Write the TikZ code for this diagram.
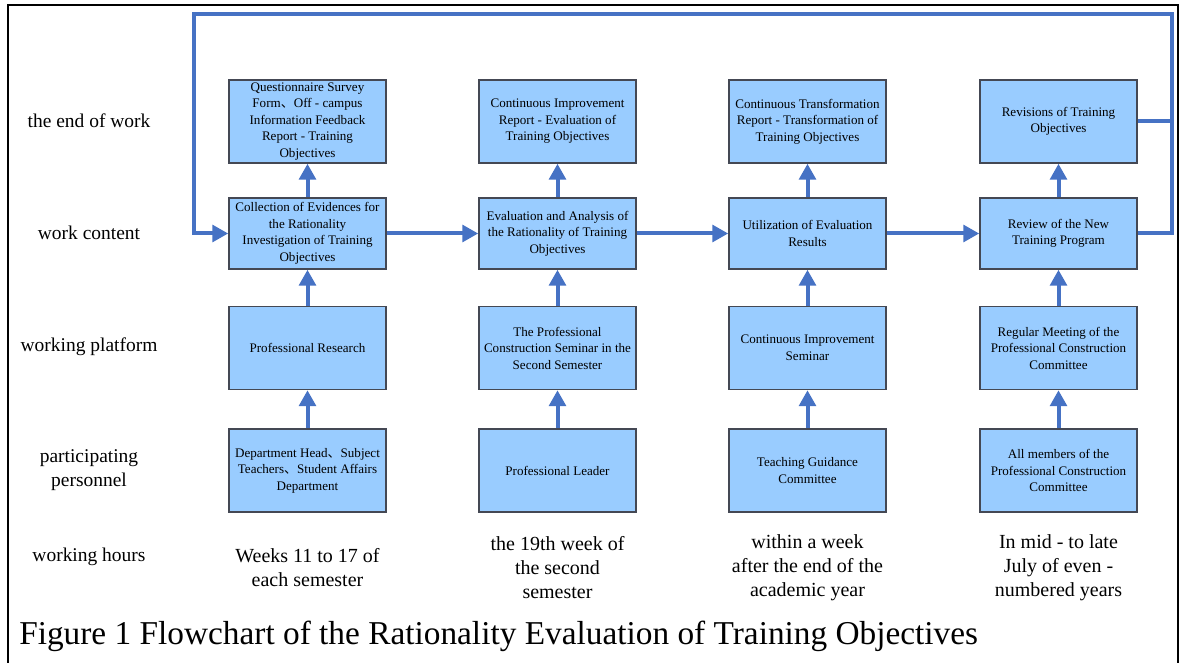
\documentclass[tikz,border=0pt]{standalone}
\usepackage{fontspec}
\setmainfont{Liberation Serif}
\newfontfamily\cjkfont{Noto Sans CJK SC}
\usetikzlibrary{arrows.meta}
\newcommand{\dunhao}{{\cjkfont 、}}
\definecolor{boxfill}{RGB}{153,204,255}
\definecolor{boxline}{RGB}{68,72,84}
\definecolor{flowblue}{RGB}{70,114,196}

\begin{document}
\begin{tikzpicture}[x=0.75pt,y=0.75pt,yscale=-1,xscale=1,
  stepbox/.style={draw=boxline,fill=boxfill,line width=1.1pt,inner sep=0pt,
    minimum width=117.75pt,minimum height=62.25pt,align=center,
    font=\fontsize{9.8}{12.4}\selectfont},
  midbox/.style={stepbox,minimum height=53.25pt},
  rowlabel/.style={align=center,font=\fontsize{14.6}{17.5}\selectfont},
  hourtext/.style={align=center,font=\fontsize{15}{18}\selectfont},
  flow/.style={draw=flowblue,line width=3pt,line join=miter,
    -{Triangle[length=12pt,width=12.5pt]}},
  backline/.style={draw=flowblue,line width=3pt,line join=miter}]
\useasboundingbox (0,0) rectangle (1183,663);

%frame
\draw [line width=1.6pt] (8,663) -- (8,5) -- (1178,5) -- (1178,663);

% row labels
\node [rowlabel] (lend) at (89,121) {the end of work};
\node [rowlabel] (lcontent) at (89,233) {work content};
\node [rowlabel] (lplatform) at (89,347) {working platform};
\node [rowlabel] (lpersonnel) at (89,470) {participating\\personnel};
\node [rowlabel] (lhours) at (89,557) {working hours};

% column 1
\node [stepbox] (survey) at (307.5,121.5) {Questionnaire Survey\\Form\dunhao Off - campus\\Information Feedback\\Report - Training\\Objectives};
\node [midbox] (collect) at (307.5,233.5) {Collection of Evidences for\\the Rationality\\Investigation of Training\\Objectives};
\node [stepbox] (research) at (307.5,348) {Professional Research};
\node [stepbox] (depthead) at (307.5,470.5) {Department Head\dunhao Subject\\Teachers\dunhao Student Affairs\\Department};

% column 2
\node [stepbox] (impreport) at (557.5,121.5) {Continuous Improvement\\Report - Evaluation of\\Training Objectives};
\node [midbox] (analysis) at (557.5,233.5) {Evaluation and Analysis of\\the Rationality of Training\\Objectives};
\node [stepbox] (seminar) at (557.5,348) {The Professional\\Construction Seminar in the\\Second Semester};
\node [stepbox] (leader) at (557.5,470.5) {Professional Leader};

% column 3
\node [stepbox] (transreport) at (807.5,121.5) {Continuous Transformation\\Report - Transformation of\\Training Objectives};
\node [midbox] (utilize) at (807.5,233.5) {Utilization of Evaluation\\Results};
\node [stepbox] (impseminar) at (807.5,348) {Continuous Improvement\\Seminar};
\node [stepbox] (guidance) at (807.5,470.5) {Teaching Guidance\\Committee};

% column 4
\node [stepbox] (revision) at (1058.5,121.5) {Revisions of Training\\Objectives};
\node [midbox] (review) at (1058.5,233.5) {Review of the New\\Training Program};
\node [stepbox] (meeting) at (1058.5,348) {Regular Meeting of the\\Professional Construction\\Committee};
\node [stepbox] (members) at (1058.5,470.5) {All members of the\\Professional Construction\\Committee};

% working hours
\node [hourtext] (hours1) at (307.5,568) {Weeks 11 to 17 of\\each semester};
\node [hourtext] (hours2) at (557.5,568) {the 19th week of\\the second\\semester};
\node [hourtext] (hours3) at (807.5,568) {within a week\\after the end of the\\academic year};
\node [hourtext] (hours4) at (1058.5,568) {In mid - to late\\July of even -\\numbered years};

% caption
\node [anchor=base west,inner sep=0pt,font=\fontsize{25}{30}\selectfont] (caption) at (19,644) {Figure 1 Flowchart of the Rationality Evaluation of Training Objectives};

% vertical arrows
\draw [flow] (depthead) -- (research);
\draw [flow] (research) -- (collect);
\draw [flow] (collect) -- (survey);
\draw [flow] (leader) -- (seminar);
\draw [flow] (seminar) -- (analysis);
\draw [flow] (analysis) -- (impreport);
\draw [flow] (guidance) -- (impseminar);
\draw [flow] (impseminar) -- (utilize);
\draw [flow] (utilize) -- (transreport);
\draw [flow] (members) -- (meeting);
\draw [flow] (meeting) -- (review);
\draw [flow] (review) -- (revision);

% horizontal arrows
\draw [flow] (collect) -- (analysis);
\draw [flow] (analysis) -- (utilize);
\draw [flow] (utilize) -- (review);

% feedback loop
\coordinate (loopTR) at (1172,14);
\coordinate (loopTL) at (194,14);
\draw [backline] (revision.east) -- (revision.east -| loopTR);
\draw [flow] (review.east) -| (loopTR) -- (loopTL) |- (collect.west);

\end{tikzpicture}
\end{document}
